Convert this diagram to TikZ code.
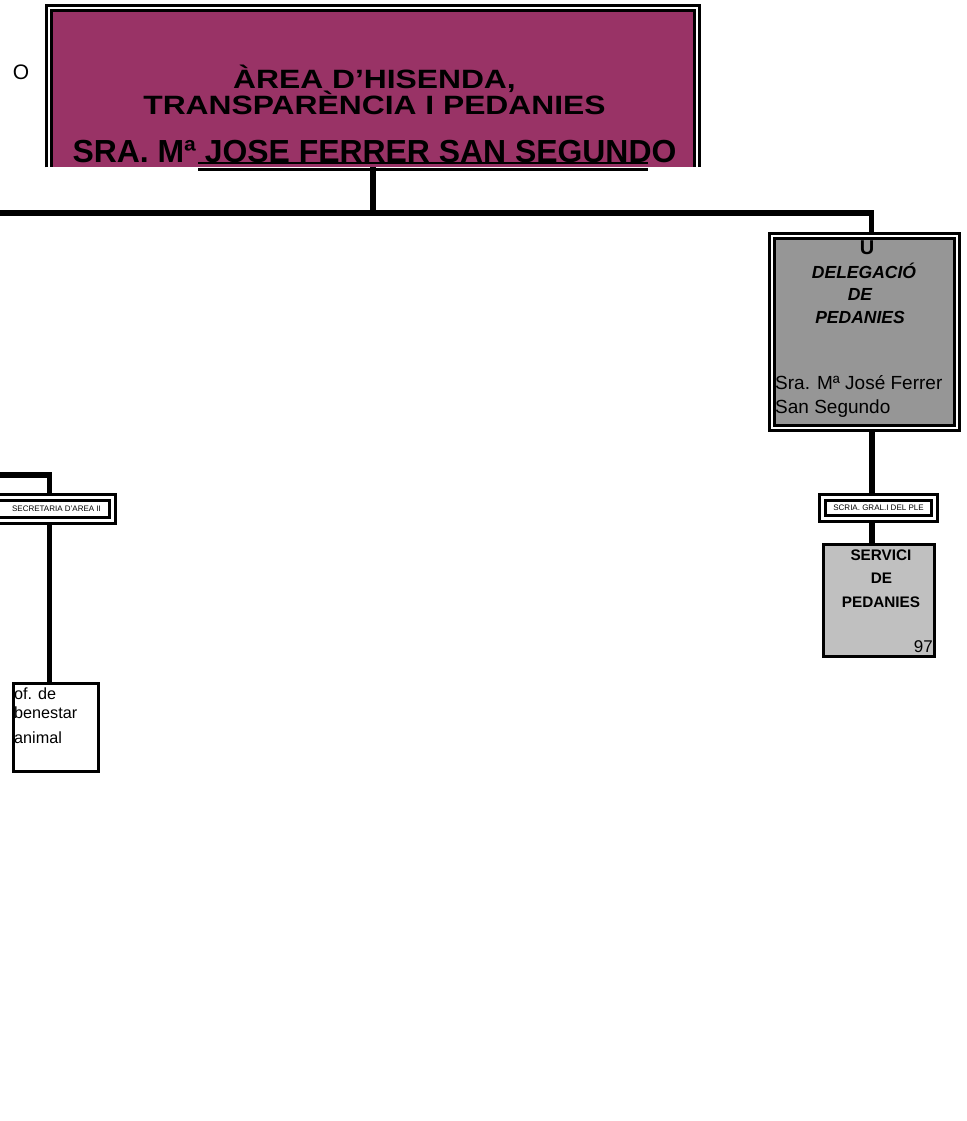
\documentclass[tikz,border=0pt]{standalone}
\usepackage{fontspec}
\usepackage{graphicx}
\setmainfont{Liberation Sans}
\definecolor{plum}{HTML}{993366}
\definecolor{delgris}{HTML}{969696}
\definecolor{servgris}{HTML}{C0C0C0}
\tikzset{
  conn/.style={line width=5.5pt},
  dblbox/.style={draw=black, line width=3pt, double=white, double distance=2pt, inner sep=0pt},
  dblsmall/.style={draw=black, line width=3pt, double=white, double distance=3pt, inner sep=0pt, font=\fontsize{8}{9}\selectfont},
  plainbox/.style={draw=black, line width=3pt, inner sep=0pt},
  txt/.style={inner sep=0pt}
}

\begin{document}
\begin{tikzpicture}[x=1pt,y=-1pt]
\useasboundingbox (0,0) rectangle (966,1121);

\node[fill=plum, inner sep=0pt, minimum width=648.5pt, minimum height=159pt, anchor=north west] (area) at (48.5,8) {};
\draw[line width=3pt, double=white, double distance=2pt] (area.south west) -- (area.north west) -- (area.north east) -- (area.south east);
\node[txt, anchor=base, font=\bfseries\fontsize{26.5}{27}\selectfont] (t1) at (374.5,89) {\scalebox{1.2}[1]{ÀREA D'HISENDA,}};
\node[txt, anchor=base, font=\bfseries\fontsize{26.5}{27}\selectfont] (t2) at (374.5,114) {\scalebox{1.2}[1]{TRANSPARÈNCIA I PEDANIES}};
\node[txt, anchor=base, font=\bfseries\fontsize{31.9}{32}\selectfont] (t3) at (374.5,162) {SRA. Mª JOSE FERRER SAN SEGUNDO};
\draw[line width=2.3pt] (198,163) -- (648,163);
\draw[line width=2.5pt] (198,169.5) -- (648,169.5);
\node[txt, anchor=base, font=\fontsize{21}{21}\selectfont] (o) at (21,80) {O};

\node[dblbox, fill=delgris, minimum width=185pt, minimum height=192pt] (deleg) at (864.5,332) {};
\begin{scope}
\clip (775.5,240) rectangle (953.5,424.5);
\node[txt, anchor=base, font=\bfseries\fontsize{20}{20}\selectfont] (u) at (867,254) {U};
\end{scope}
\node[txt, anchor=base, font=\bfseries\itshape\fontsize{17.5}{18}\selectfont] (dl1) at (864,278) {DELEGACIÓ};
\node[txt, anchor=base, font=\bfseries\itshape\fontsize{17.5}{18}\selectfont] (dl2) at (860,300) {DE};
\node[txt, anchor=base, font=\bfseries\itshape\fontsize{17.5}{18}\selectfont] (dl3) at (860,323) {PEDANIES};
\node[txt, anchor=base west, font=\fontsize{19}{19}\selectfont] (dn1) at (775,389) {Sra. Mª José Ferrer};
\node[txt, anchor=base west, font=\fontsize{19}{19}\selectfont] (dn2) at (775,413) {San Segundo};

\node[dblsmall, minimum width=112pt, minimum height=21pt] (scria) at (878.5,508) {SCRIA. GRAL.I DEL PLE};

\node[plainbox, fill=servgris, minimum width=111pt, minimum height=112pt] (serv) at (879,600.5) {};
\node[txt, anchor=base, font=\bfseries\fontsize{15.3}{16}\selectfont] (sv1) at (881,560) {SERVICI};
\node[txt, anchor=base, font=\bfseries\fontsize{15.3}{16}\selectfont] (sv2) at (881.5,583) {DE};
\node[txt, anchor=base, font=\bfseries\fontsize{15.3}{16}\selectfont] (sv3) at (881,607) {PEDANIES};
\node[txt, anchor=base east, font=\fontsize{17}{17}\selectfont] (sv4) at (933,652) {97};

\node[dblsmall, minimum width=125pt, minimum height=23pt] (secr) at (50,509) {\hspace*{13pt}SECRETARIA D'AREA II};
\node[plainbox, minimum width=85pt, minimum height=88pt] (benes) at (56,727.5) {};
\node[txt, anchor=base west, font=\fontsize{16.2}{18}\selectfont] (bt1) at (14,699) {of. de};
\node[txt, anchor=base west, font=\fontsize{16.2}{18}\selectfont] (bt2) at (14,718) {benestar};
\node[txt, anchor=base west, font=\fontsize{16.2}{18}\selectfont] (bt3) at (14,743) {animal};

\coordinate (lft) at (-10,213);
\coordinate (lft2) at (-10,475);
\draw[conn] (area.south) -- (area.south |- lft);
\draw[conn] (lft) -| ([xshift=7pt]deleg.north);
\draw[conn] ([xshift=7.5pt]deleg.south) -- ([xshift=-6.5pt]scria.north);
\draw[conn] ([xshift=-6.5pt]scria.south) -- ([xshift=-7pt]serv.north);
\draw[conn] (lft2) -| ([xshift=-0.5pt]secr.north);
\draw[conn] ([xshift=-0.5pt]secr.south) -- ([xshift=-6.5pt]benes.north);
\end{tikzpicture}
\end{document}
